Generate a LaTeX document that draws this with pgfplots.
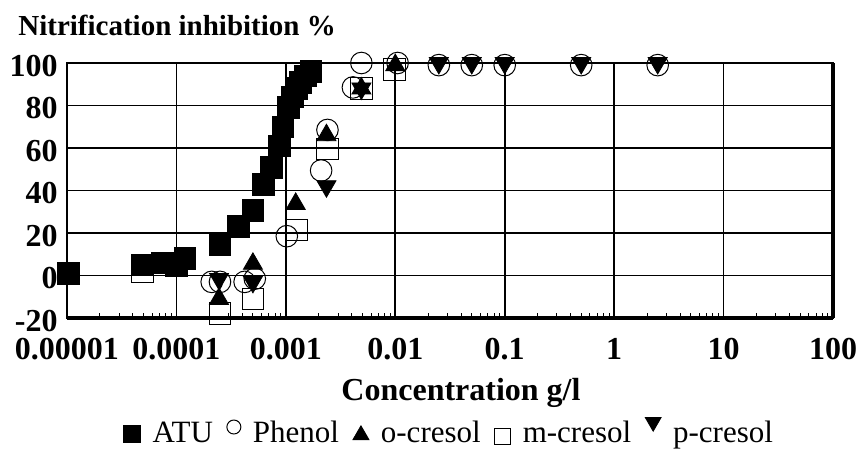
\documentclass[border=0pt]{standalone}
\usepackage{fontspec}
\setmainfont{Liberation Serif}
\usepackage{pgfplots}
\pgfplotsset{compat=1.18}

\newcommand{\tickfont}{\fontsize{16}{18}\selectfont\bfseries}

\pgfplotsset{
    lgd/.style 2 args={legend image code/.code={\draw[##1, mark size=#1, only marks] plot coordinates {(0pt,#2)};}},
}

\begin{document}
\begin{tikzpicture}
\begin{axis}[
    scale only axis,
    width=383pt, height=127.5pt,
    xmode=log, log basis x=10,
    xmin=1e-5, xmax=100,
    ymin=-20, ymax=100,
    xtick={1e-5,1e-4,1e-3,1e-2,1e-1,1,10,100},
    xticklabels={0.00001,0.0001,0.001,0.01,0.1,1,10,100},
    minor xtick={2e-5,3e-5,4e-5,5e-5,6e-5,7e-5,8e-5,9e-5,
                 2e-4,3e-4,4e-4,5e-4,6e-4,7e-4,8e-4,9e-4,
                 2e-3,3e-3,4e-3,5e-3,6e-3,7e-3,8e-3,9e-3,
                 0.02,0.03,0.04,0.05,0.06,0.07,0.08,0.09,
                 0.2,0.3,0.4,0.5,0.6,0.7,0.8,0.9,
                 2,3,4,5,6,7,8,9,
                 20,30,40,50,60,70,80,90},
    ytick={-20,0,20,40,60,80,100},
    yticklabels={-20,0,20,40,60,80,100},
    grid=major,
    major grid style={black, line width=0.85pt},
    axis line style={black, line width=1pt},
    major tick length=0pt,
    minor tick length=2.5pt,
    minor tick style={black, line width=0.5pt},
    tick align=inside,
    xtick pos=left, ytick pos=left,
    ticklabel style={font=\tickfont},
    xticklabel style={inner sep=0pt, yshift=-10pt},
    yticklabel style={inner sep=0pt, xshift=-4.5pt, yshift=-1.5pt},
    clip=false,
    legend columns=-1,
    legend style={at={(0.5,-0.4863)}, anchor=base, draw=none, fill=none, inner sep=0pt,
        font=\fontsize{15.5}{17}\selectfont,
        cells={anchor=base west, inner xsep=0pt},
        /tikz/every odd column/.append style={column sep=4pt},
        /tikz/every even column/.append style={column sep=5pt}},
]
% ATU
\addplot[only marks, mark=square*, mark size=5.4pt, black, lgd={4.4pt}{4pt}] coordinates {
(1.03e-5,1) (4.9e-5,5) (7.4e-5,6) (1.0e-4,4.5) (1.2e-4,8)
(2.5e-4,14.5) (3.7e-4,23) (5.0e-4,30.5) (6.2e-4,43) (7.4e-4,51)
(8.7e-4,61) (9.4e-4,70) (1.05e-3,79) (1.15e-3,84) (1.25e-3,88)
(1.35e-3,91) (1.5e-3,94) (1.7e-3,96)
};
\addlegendentry{ATU}
% Phenol
\addplot[only marks, mark=o, mark size=5.4pt, black, line width=0.5pt, lgd={3.5pt}{7.5pt}] coordinates {
(2.1e-4,-3) (2.5e-4,-3) (4.2e-4,-3) (5.2e-4,-1.5) (1.02e-3,18.5)
(2.1e-3,49.4) (2.4e-3,68.5) (4.1e-3,88.5) (4.9e-3,100) (0.0105,100)
(0.025,99) (0.05,99) (0.1,99) (0.5,99) (2.5,99)
};
\addlegendentry{Phenol}
% o-cresol
\addplot[only marks, mark=triangle*, mark size=5.5pt, black, lgd={4.6pt}{3.5pt}] coordinates {
(2.45e-4,-11) (5.0e-4,5.5) (1.23e-3,33.7) (2.35e-3,66) (4.9e-3,88) (0.01,99)
};
\addlegendentry{o-cresol}
% m-cresol
\addplot[only marks, mark=square, mark size=5.4pt, black, line width=0.5pt, lgd={4pt}{3pt}] coordinates {
(4.9e-5,2) (2.5e-4,-18) (5.0e-4,-11) (1.26e-3,21.4) (2.4e-3,59.6) (4.9e-3,88) (0.0098,97)
};
\addlegendentry{m-cresol}
% p-cresol
\addplot[only marks, mark=triangle*, mark size=5.5pt, black, mark options={rotate=180}, lgd={4.6pt}{10pt}] coordinates {
(2.45e-4,-1.6) (5.0e-4,-3) (2.35e-3,42) (4.9e-3,88) (0.025,100) (0.05,100) (0.1,100) (0.5,100) (2.5,100)
};
\addlegendentry{p-cresol}

\draw[black, line width=1.8pt] (rel axis cs:1,0) -- (rel axis cs:1,1);
\draw[black, line width=1.6pt] (rel axis cs:0,0) -- (rel axis cs:1,0);

\node[anchor=base west, font=\fontsize{14.5}{16}\selectfont\bfseries, inner sep=0pt]
    at ([xshift=-24.5pt, yshift=13.5pt]rel axis cs:0,1) {Nitrification inhibition \%};
\node[anchor=base, font=\fontsize{16}{18}\selectfont\bfseries, inner sep=0pt]
    at ([xshift=5.5pt, yshift=-41pt]rel axis cs:0.5,0) {Concentration g/l};

\path ([xshift=-33.5pt, yshift=31.5pt]rel axis cs:0,1) rectangle ([xshift=16.5pt, yshift=-67.5pt]rel axis cs:1,0);
\end{axis}
\end{tikzpicture}
\end{document}
